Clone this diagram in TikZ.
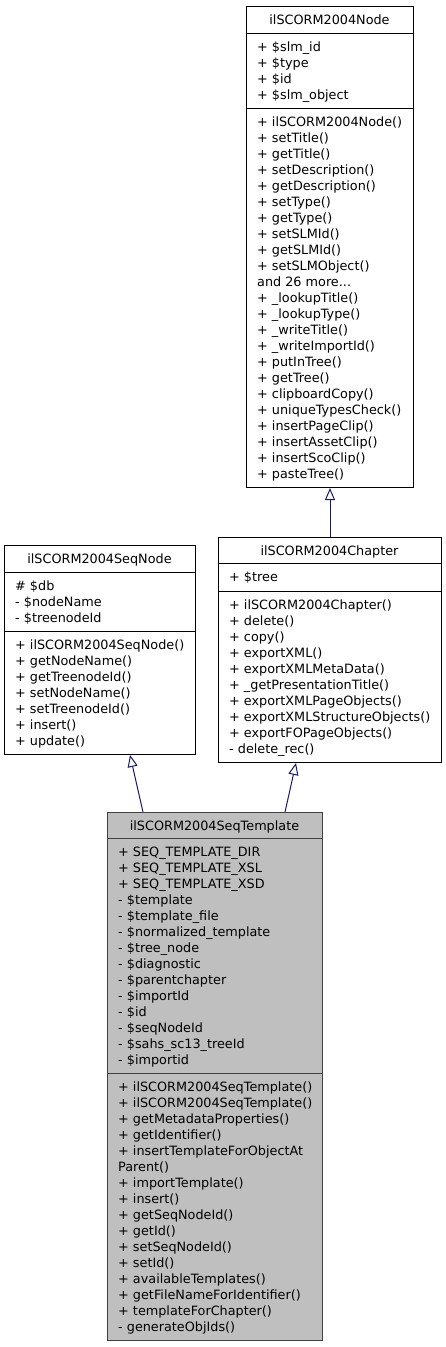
\documentclass[tikz,border=0pt]{standalone}
\usepackage{fontspec}
\setmainfont{DejaVu Sans}
\usetikzlibrary{arrows.meta}
\definecolor{edgeblue}{HTML}{191970}
\definecolor{tfill}{HTML}{BFBFBF}
\definecolor{tborder}{HTML}{404040}
\newcommand\mydots{...}
\begin{document}
\begin{tikzpicture}[x=1pt,y=-1pt,
  box/.style={draw=black, line width=1pt, fill=white, inner sep=0pt, anchor=north west},
  hibox/.style={box, draw=tborder, fill=tfill},
  divider/.style={draw=black, line width=1pt},
  hidivider/.style={draw=tborder, line width=1pt},
  ttl/.style={inner sep=0pt, anchor=base, font=\fontsize{12.8}{16}\selectfont},
  ln/.style={inner sep=0pt, anchor=base west, font=\fontsize{12.8}{16}\selectfont},
  inh/.style={draw=edgeblue, line width=1pt, -{Triangle[open, length=12pt, width=10pt]}}
]
\useasboundingbox (0,0) rectangle (445,1347);
\fill[white] (0,0) rectangle (445,1347);

% ilSCORM2004Node
\node[box, minimum width=167pt, minimum height=481pt] (node) at (246,6) {};
\draw[divider] (246,33) -- (413,33);
\draw[divider] (246,108) -- (413,108);
\node[ttl] (node-title) at (329.5,24.5) {ilSCORM2004Node};
\foreach \t [count=\i from 0] in {+ \$slm\_id, + \$type, + \$id, + \$slm\_object}
  \node[ln] (node-a\i) at (257,{51+16*\i}) {\t};
\foreach \t [count=\i from 0] in {+ ilSCORM2004Node(), + setTitle(), + getTitle(), + setDescription(), + getDescription(), + setType(), + getType(), + setSLMId(), + getSLMId(), + setSLMObject(), and 26 more\mydots, + \_lookupTitle(), + \_lookupType(), + \_writeTitle(), + \_writeImportId(), + putInTree(), + getTree(), + clipboardCopy(), + uniqueTypesCheck(), + insertPageClip(), + insertAssetClip(), + insertScoClip(), + pasteTree()}
  \node[ln] (node-m\i) at (257,{126+16*\i}) {\t};

% ilSCORM2004Chapter
\node[box, minimum width=223pt, minimum height=225pt] (chapter) at (218,537) {};
\draw[divider] (218,563) -- (441,563);
\draw[divider] (218,591) -- (441,591);
\node[ttl] (chapter-title) at (329.5,555.5) {ilSCORM2004Chapter};
\node[ln] (chapter-a0) at (229,581) {+ \$tree};
\foreach \t [count=\i from 0] in {+ ilSCORM2004Chapter(), + delete(), + copy(), + exportXML(), + exportXMLMetaData(), + \_getPresentationTitle(), + exportXMLPageObjects(), + exportXMLStructureObjects(), + exportFOPageObjects(), - delete\_rec()}
  \node[ln] (chapter-m\i) at (229,{609+16*\i}) {\t};

% ilSCORM2004SeqNode
\node[box, minimum width=191pt, minimum height=209pt] (seqnode) at (4,545) {};
\draw[divider] (4,572) -- (195,572);
\draw[divider] (4,631) -- (195,631);
\node[ttl] (seqnode-title) at (99.5,563.5) {ilSCORM2004SeqNode};
\foreach \t [count=\i from 0] in {\# \$db, - \$nodeName, - \$treenodeId}
  \node[ln] (seqnode-a\i) at (15,{590+16*\i}) {\t};
\foreach \t [count=\i from 0] in {+ ilSCORM2004SeqNode(), + getNodeName(), + getTreenodeId(), + setNodeName(), + setTreenodeId(), + insert(), + update()}
  \node[ln] (seqnode-m\i) at (15,{649+16*\i}) {\t};

% ilSCORM2004SeqTemplate
\node[hibox, minimum width=215pt, minimum height=528pt] (template) at (107,812) {};
\draw[hidivider] (107,838) -- (322,838);
\draw[hidivider] (107,1073) -- (322,1073);
\node[ttl] (template-title) at (214.5,830.5) {ilSCORM2004SeqTemplate};
\foreach \t [count=\i from 0] in {+ SEQ\_TEMPLATE\_DIR, + SEQ\_TEMPLATE\_XSL, + SEQ\_TEMPLATE\_XSD, - \$template, - \$template\_file, - \$normalized\_template, - \$tree\_node, - \$diagnostic, - \$parentchapter, - \$importId, - \$id, - \$seqNodeId, - \$sahs\_sc13\_treeId, - \$importid}
  \node[ln] (template-a\i) at (118,{856+16*\i}) {\t};
\foreach \t [count=\i from 0] in {+ ilSCORM2004SeqTemplate(), + ilSCORM2004SeqTemplate(), + getMetadataProperties(), + getIdentifier(), + insertTemplateForObjectAt, Parent(), + importTemplate(), + insert(), + getSeqNodeId(), + getId(), + setSeqNodeId(), + setId(), + availableTemplates(), + getFileNameForIdentifier(), + templateForChapter(), - generateObjIds()}
  \node[ln] (template-m\i) at (118,{1091+16*\i}) {\t};

% inheritance connectors
\coordinate (t1) at ([xshift=36pt]template.north west);
\coordinate (s1) at ([xshift=126pt]seqnode.south west);
\coordinate (t2) at ([xshift=178pt]template.north west);
\coordinate (c2) at ([xshift=78pt]chapter.south west);
\draw[inh] (chapter.north) -- (node.south);
\draw[inh] (t1) -- (s1);
\draw[inh] (t2) -- (c2);
\end{tikzpicture}
\end{document}
